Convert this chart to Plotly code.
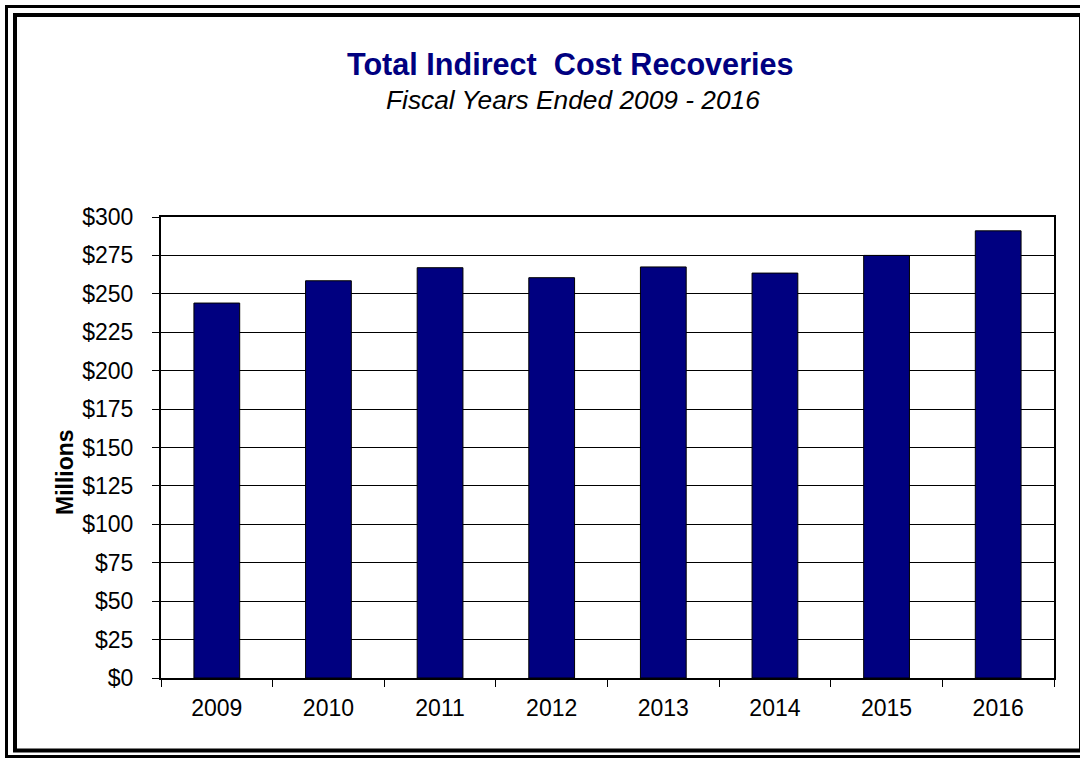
import plotly.graph_objects as go

years = ["2009", "2010", "2011", "2012", "2013", "2014", "2015", "2016"]
recoveries = [244, 258.5, 267, 260.5, 267.5, 263.5, 275, 291]
y_ticks = list(range(0, 301, 25))
y_tick_labels = [f"${v}" for v in y_ticks]

W, H = 1080, 760
L, R, T, B = 161, 1054, 217, 678

fig = go.Figure(go.Bar(
    x=years, y=recoveries,
    marker=dict(color="#000080", line=dict(color="#000000", width=1)),
))

def px_to_paper_x(px):
    return (px - L) / (R - L)

def px_to_paper_y(py):
    return (B - py) / (B - T)

shapes = []
# outer double border
for (x0, y0, x1, y1, w) in [(6.5, 6.5, 1086, 756.5, 3), (15, 15, 1081, 750.5, 4)]:
    shapes.append(dict(type="rect", xref="paper", yref="paper",
                       x0=px_to_paper_x(x0), x1=px_to_paper_x(x1),
                       y0=px_to_paper_y(y1), y1=px_to_paper_y(y0),
                       line=dict(color="black", width=w), fillcolor="rgba(0,0,0,0)", layer="above"))

fig.update_layout(
    width=W, height=H,
    margin=dict(l=L, r=W - R, t=T, b=H - B, pad=0),
    paper_bgcolor="white", plot_bgcolor="white",
    font=dict(family="Arial, Liberation Sans, sans-serif", color="black", size=23),
    bargap=0.59,
    showlegend=False,
    shapes=shapes,
    annotations=[
        dict(text="<b>Total Indirect  Cost Recoveries</b>", xref="paper", yref="paper",
             x=px_to_paper_x(570), y=px_to_paper_y(64), xanchor="center", yanchor="middle",
             showarrow=False, font=dict(size=30.6, color="#000080")),
        dict(text="<i>Fiscal Years Ended 2009 - 2016</i>", xref="paper", yref="paper",
             x=px_to_paper_x(572.5), y=px_to_paper_y(100), xanchor="center", yanchor="middle",
             showarrow=False, font=dict(size=26.3, color="black")),
        dict(text="<b>Millions</b>", xref="paper", yref="paper", textangle=-90,
             x=px_to_paper_x(65), y=px_to_paper_y(472), xanchor="center", yanchor="middle",
             showarrow=False, font=dict(size=23, color="black")),
    ],
)

fig.update_xaxes(
    type="category", showline=True, linecolor="black", linewidth=2, mirror=True,
    ticks="outside", tickson="boundaries", ticklen=7, tickcolor="black", tickwidth=1,
    showgrid=False, tickfont=dict(size=23), ticklabelstandoff=8,
)
fig.update_yaxes(
    range=[0, 300], tickvals=y_ticks, ticktext=y_tick_labels,
    showline=True, linecolor="black", linewidth=2, mirror=True,
    ticks="outside", ticklen=7, tickcolor="black", tickwidth=1,
    showgrid=True, gridcolor="black", gridwidth=1, zeroline=False,
    tickfont=dict(size=23), ticklabelstandoff=14,
)

fig.write_html("out.html", config={"displayModeBar": False},
               post_script="document.body.style.margin='0';document.body.style.overflow='hidden';")
